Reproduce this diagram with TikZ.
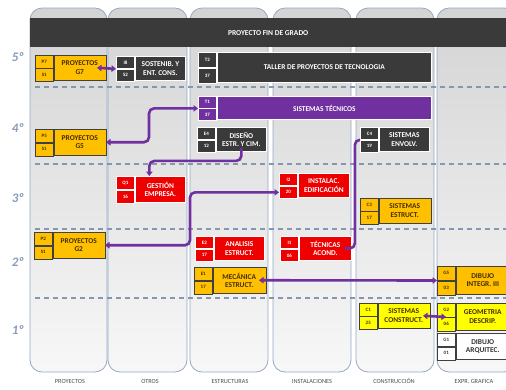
\documentclass[tikz,border=0pt]{standalone}
\usepackage{fontspec}
\setmainfont{Carlito}
\usetikzlibrary{arrows.meta}

\definecolor{amarillo}{RGB}{255,192,0}
\definecolor{amarilloclaro}{RGB}{255,255,0}
\definecolor{oscuro}{RGB}{58,58,58}
\definecolor{rojo}{RGB}{238,0,0}
\definecolor{morado}{RGB}{112,48,160}
\definecolor{bordepanel}{RGB}{150,168,195}
\definecolor{guion}{RGB}{132,151,176}
\definecolor{textoam}{RGB}{70,45,0}
\definecolor{curso}{RGB}{135,155,185}

\tikzset{
  panel/.style={draw=bordepanel, line width=0.8pt, rounded corners=12pt, top color=black!17, bottom color=black!3},
  guiones/.style={guion, line width=1.6pt, dash pattern=on 5pt off 4pt},
  cod/.style={minimum width=18pt, inner sep=0pt, font=\fontsize{5}{5.5}\selectfont\bfseries},
  tit/.style={inner sep=0pt, align=center, font=\fontsize{7.4}{8.4}\selectfont\bfseries},
  am/.style={fill=amarillo, draw=black!75, line width=0.5pt, text=textoam},
  amc/.style={fill=amarilloclaro, draw=black!75, line width=0.5pt, text=textoam},
  blanco/.style={fill=white, draw=black!75, line width=0.5pt, text=black!80},
  gris/.style={fill=oscuro, draw=white, line width=0.9pt, text=white},
  roja/.style={fill=rojo, draw=white, line width=0.9pt, text=white},
  mor/.style={fill=morado, draw=white, line width=0.9pt, text=white},
  flecha/.style={draw=morado, line width=2.6pt, rounded corners=5pt},
  pie/.style={font=\fontsize{6.3}{7}\selectfont, text=black!70},
  ncurso/.style={font=\fontsize{13}{13}\selectfont\bfseries\itshape, text=curso}
}

% asignatura: nombre, x, y, ancho, alto, codigo1, codigo2, texto, estilo
\newcommand{\asig}[9]{%
  \node[#9, cod, minimum height={#5pt/2}, anchor=north west] (#1a) at (#2,#3) {#6};
  \node[#9, cod, minimum height={#5pt/2}, anchor=north west] (#1b) at (#1a.south west) {#7};
  \node[#9, tit, minimum width={#4pt-18pt}, minimum height=#5pt, anchor=north west] (#1) at (#1a.north east) {#8};
}

\begin{document}
\begin{tikzpicture}[x=1pt, y=-1pt, >={Triangle[length=4.5pt,width=6.5pt]}]
  \useasboundingbox (0,0) rectangle (506,389);

  % columnas
  \foreach \xa/\xb in {30/107, 108/187, 190/268, 273/351, 356/434, 437/516}
    \draw[panel] (\xa,8) rectangle (\xb,372);

  % separacion de cursos
  \foreach \y in {87,164,229,298}
    \draw[guiones] (35,\y) -- (506,\y);

  % cabecera
  \node[fill=oscuro, minimum width=476pt, minimum height=29pt, inner sep=0pt, anchor=north west,
        text=white, font=\fontsize{7.5}{8}\selectfont\bfseries] (pfg) at (30,18) {PROYECTO FIN DE GRADO};

  % cursos
  \foreach \y/\c in {57/5, 128/4, 198/3, 262/2, 330/1}
    \node[ncurso] (curso\c) at (18,\y) {\c º};

  % nombres de columnas
  \foreach \x/\t [count=\i] in {70/PROYECTOS, 150/OTROS, 230/ESTRUCTURAS, 312/INSTALACIONES, 394/CONSTRUCCIÓN, 474/EXPR. GRAFICA}
    \node[pie] (col\i) at (\x,381) {\t};

  % 5º
  \asig{p7}{35}{55}{70}{25}{P7}{S1}{PROYECTOS\\G7}{am}
  \asig{i8}{116}{56}{68}{24}{I8}{S2}{SOSTENIB. Y\\ENT. CONS.}{gris}
  \asig{t2}{198}{52}{232}{30}{T2}{37}{TALLER DE PROYECTOS DE TECNOLOGIA}{gris}
  % 4º
  \asig{t1}{198}{96}{232}{23}{T1}{37}{SISTEMAS TÉCNICOS}{mor}
  \asig{p5}{35}{129}{70}{26}{P5}{S1}{PROYECTOS\\G5}{am}
  \asig{e4}{197}{127}{68}{24}{E4}{12}{DISEÑO\\ESTR. Y CIM.}{gris}
  \asig{c4}{360}{127}{68}{24}{C4}{19}{SISTEMAS\\ENVOLV.}{gris}
  % 3º
  \asig{q1}{116}{176}{68}{26}{Q1}{16}{GESTIÓN\\EMPRESA.}{roja}
  \asig{i2}{279}{173}{69}{24}{I2}{20}{INSTALAC.\\EDIFICACIÓN}{roja}
  \asig{c3}{360}{198}{70}{25}{C3}{17}{SISTEMAS\\ESTRUCT.}{am}
  % 2º
  \asig{p2}{34}{232}{70}{26}{P2}{S1}{PROYECTOS\\G2}{am}
  \asig{e2}{195}{236}{68}{24}{E2}{17}{ANALISIS\\ESTRUCT.}{roja}
  \asig{i1}{280}{236}{70}{24}{I1}{06}{TÉCNICAS\\ACOND.}{roja}
  \asig{e1}{194}{267}{71}{26}{E1}{17}{MECÁNICA\\ESTRUCT.}{am}
  \asig{g5}{437}{266}{72}{28}{G5}{03}{DIBUJO\\INTEGR. III}{am}
  % 1º
  \asig{c1}{359}{303}{70}{25}{C1}{25}{SISTEMAS\\CONSTRUCT.}{amc}
  \asig{g2}{437}{303}{72}{27}{G2}{06}{GEOMETRIA\\DESCRIP.}{amc}
  \asig{g1}{437}{333}{72}{26}{G1}{01}{DIBUJO\\ARQUITEC.}{blanco}

  % relaciones
  \draw[flecha,<->] ([xshift=-9pt]p7.east) -- (i8b.north west);
  \draw[flecha,<->] (p5.east) -- ++(43,0) |- (t1a.south west);
  \draw[flecha,->] ([yshift=4pt]e4.south) -- ++(0,13) -| ([xshift=-11pt]q1.north);
  \draw[flecha,<->] (p2.east) -- ++(85,0) |- (i2b.west);
  \draw[flecha] ([xshift=-7pt]i1.east) -- ++(10,0) |- (c4a.south west);
  \draw[flecha,<->] ([xshift=-7pt]e1.east) -- (g5a.south west);
  \draw[flecha,<->] ([xshift=-7pt]c1.east) -- ([xshift=9pt]g2a.south west);
\end{tikzpicture}
\end{document}
